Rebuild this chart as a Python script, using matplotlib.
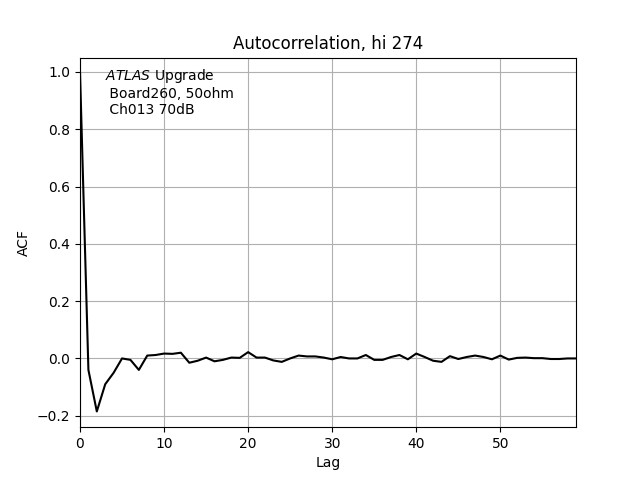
import matplotlib
matplotlib.use('Agg')
import matplotlib.pyplot as plt

lags = list(range(60))
acf = [1.0, -0.04, -0.185, -0.09, -0.05, 0.0, -0.005, -0.04, 0.01, 0.012,
       0.017, 0.016, 0.02, -0.015, -0.008, 0.003, -0.01, -0.005, 0.003, 0.002,
       0.022, 0.003, 0.003, -0.007, -0.012, 0.0, 0.01, 0.007, 0.007, 0.003,
       -0.003, 0.005, 0.0, 0.0, 0.012, -0.005, -0.005, 0.005, 0.012, -0.003,
       0.017, 0.005, -0.008, -0.012, 0.008, -0.002, 0.005, 0.01, 0.005, -0.003,
       0.01, -0.004, 0.002, 0.003, 0.001, 0.001, -0.002, -0.002, 0.0, 0.0]

fig, ax = plt.subplots(figsize=(6.4, 4.8), dpi=100)
ax.plot(lags, acf, color='black')
ax.set_xlim(0, 59)
ax.set_ylim(-0.24, 1.05)
ax.grid(True)
ax.set_title('Autocorrelation, hi 274')
ax.set_xlabel('Lag')
ax.set_ylabel('ACF')
ax.text(0.05, 0.975, '$\\it{ATLAS}$ Upgrade\n Board260, 50ohm\n Ch013 70dB',
        transform=ax.transAxes, va='top', ha='left')
plt.savefig('out.png')
